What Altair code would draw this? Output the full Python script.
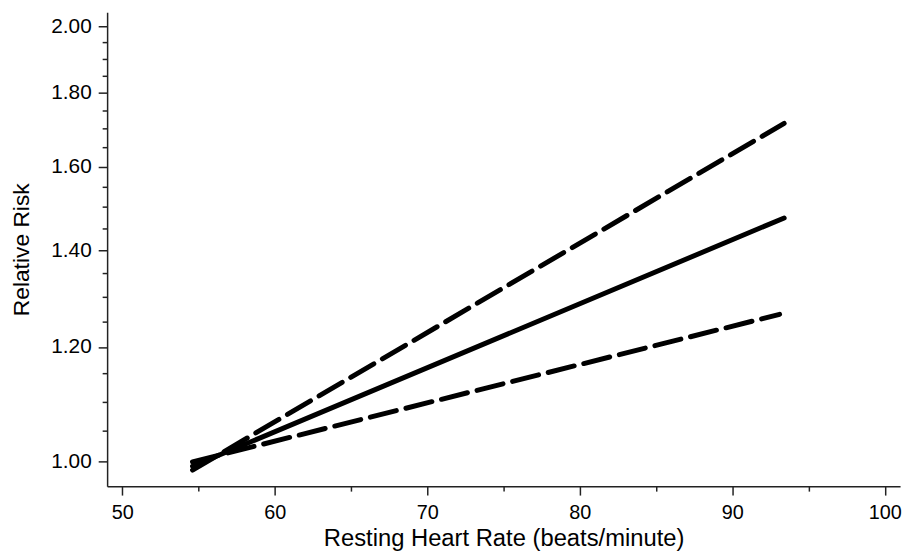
import altair as alt
import pandas as pd

# ---- data ----
hr_estimate = [54.6, 93.4]
rr_estimate = [0.992, 1.474]
hr_upper = [54.6, 93.4]
rr_upper = [0.986, 1.714]
hr_lower = [54.6, 93.1]
rr_lower = [0.999, 1.264]

x_ticks = [50, 55, 60, 65, 70, 75, 80, 85, 90, 95, 100]
y_ticks = [1.00, 1.05, 1.10, 1.15, 1.20, 1.25, 1.30, 1.35, 1.40, 1.45, 1.50,
           1.55, 1.60, 1.65, 1.70, 1.75, 1.80, 1.85, 1.90, 1.95, 2.00]

rows = []
for name, xs, ys in [("estimate", hr_estimate, rr_estimate),
                     ("upper", hr_upper, rr_upper),
                     ("lower", hr_lower, rr_lower)]:
    for x, y in zip(xs, ys):
        rows.append({"series": name, "hr": x, "rr": y})
df = pd.DataFrame(rows)

FONT = "Liberation Sans"

x_enc = alt.X(
    "hr:Q",
    scale=alt.Scale(domain=[49, 101], nice=False, zero=False),
    axis=alt.Axis(
        title="Resting Heart Rate (beats/minute)",
        values=x_ticks,
        format="d",
        labelExpr="datum.value % 10 == 0 ? datum.label : ''",
        tickSize={"condition": {"test": "datum.value % 10 == 0", "value": 9}, "value": 5},
        labelPadding=8,
        labelFontSize=20,
        titleFontSize=24,
        titleFontWeight="normal",
        titleBaseline="alphabetic",
        titleY=60,
        grid=False,
    ),
)
y_enc = alt.Y(
    "rr:Q",
    scale=alt.Scale(type="log", domain=[0.961, 2.046], nice=False, zero=False),
    axis=alt.Axis(
        title="Relative Risk",
        values=y_ticks,
        format=".2f",
        labelExpr="abs(datum.value*5 - round(datum.value*5)) < 0.001 ? datum.label : ''",
        tickSize={"condition": {"test": "abs(datum.value*5 - round(datum.value*5)) < 0.001", "value": 9}, "value": 5},
        labelPadding=7,
        labelFontSize=21,
        titleFontSize=23,
        titleFontWeight="normal",
        titleBaseline="alphabetic",
        titleX=-79,
        grid=False,
    ),
)

base = alt.Chart(df)

solid = base.transform_filter(alt.datum.series == "estimate").mark_line(
    color="black", strokeWidth=5, strokeCap="round"
).encode(x=x_enc, y=y_enc)

dashed = base.transform_filter(alt.datum.series != "estimate").mark_line(
    color="black", strokeWidth=5, strokeCap="round", strokeDash=[27, 10]
).encode(x=x_enc, y=y_enc, detail="series:N")

chart = alt.layer(solid, dashed).properties(
    width=800,
    height=478,
    autosize=alt.AutoSizeParams(type="none"),
    padding={"left": 100, "top": 2, "right": 8, "bottom": 63},
).configure_view(stroke=None).configure_axis(
    labelFont=FONT,
    titleFont=FONT,
    labelColor="black",
    titleColor="black",
    domainColor="#222222",
    tickColor="#222222",
    domainWidth=1.5,
    tickWidth=1.5,
)

chart.save("out.html", embed_options={"renderer": "svg", "actions": False})
